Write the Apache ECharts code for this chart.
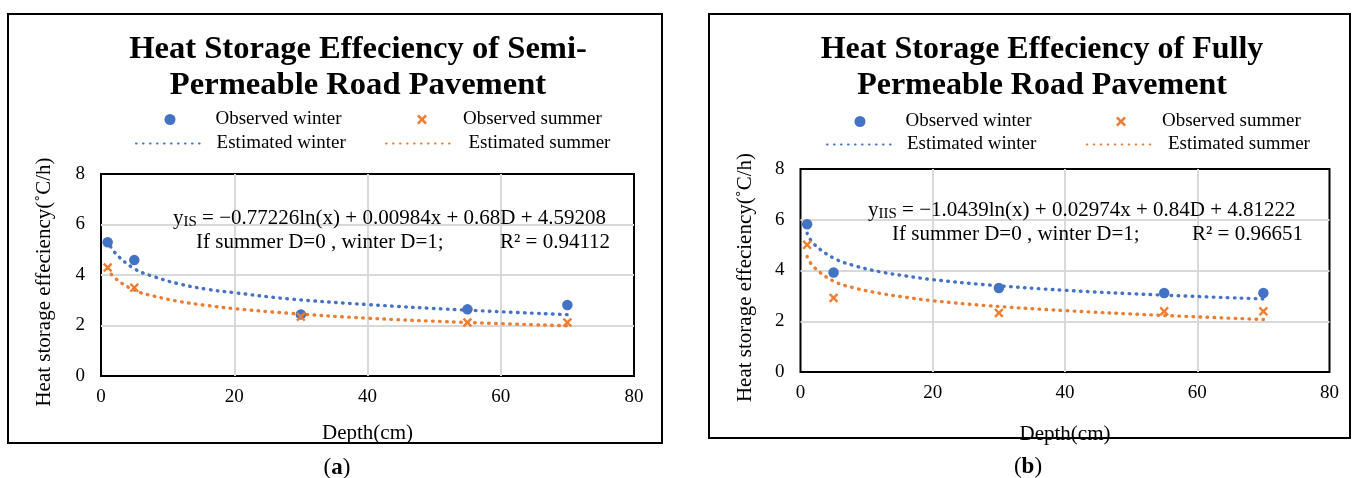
<!DOCTYPE html>
<html>
<head>
<meta charset="utf-8">
<script src="https://cdn.jsdelivr.net/npm/echarts@6/dist/echarts.min.js"></script>
<style>
html,body{margin:0;padding:0;background:#fff;}
#chart{width:1357px;height:478px;}
</style>
</head>
<body>
<div id="chart"></div>
<script>
// ---------- data ----------
const xTicks = [0, 20, 40, 60, 80];
const yTicks = [0, 2, 4, 6, 8];

const depthObs = [1, 5, 30, 55, 70];
const semiWinterObs = [5.30, 4.59, 2.44, 2.64, 2.81];
const semiSummerObs = [4.30, 3.50, 2.35, 2.12, 2.12];
const fullWinterObs = [5.82, 3.92, 3.31, 3.11, 3.11];
const fullSummerObs = [5.01, 2.92, 2.33, 2.39, 2.39];

const depthEst = [1, 2, 5, 8, 12, 16, 20, 28, 40, 54, 70];
const semiWinterEst = [5.38, 4.91, 4.25, 3.93, 3.63, 3.43, 3.30, 3.06, 2.83, 2.62, 2.43];
const semiSummerEst = [4.27, 3.90, 3.40, 3.16, 2.94, 2.79, 2.67, 2.49, 2.29, 2.13, 1.99];
const fullWinterEst = [5.47, 5.05, 4.49, 4.20, 3.95, 3.78, 3.64, 3.44, 3.22, 3.04, 2.88];
const fullSummerEst = [4.55, 4.14, 3.58, 3.32, 3.10, 2.94, 2.81, 2.62, 2.42, 2.24, 2.07];

const seriesNames = ['Observed winter', 'Observed summer', 'Estimated winter', 'Estimated summer'];
const titles = ['Heat Storage Effeciency of Semi-\nPermeable Road Pavement',
                'Heat Storage Effeciency of Fully\nPermeable Road Pavement'];
const xName = 'Depth(cm)';
const yName = 'Heat storage effeciency(\u02DAC/h)';
const eqSub = ['IS', 'IIS'];
const eqRest = [' = \u22120.77226ln(x) + 0.00984x + 0.68D + 4.59208',
                ' = \u22121.0439ln(x) + 0.02974x + 0.84D + 4.81222'];
const eqLine2 = 'If summer D=0 , winter D=1;';
const r2Text = ['R\u00B2 = 0.94112', 'R\u00B2 = 0.96651'];
const panelLabels = ['a', 'b'];

// ---------- style ----------
const BLUE = '#4472C4', ORANGE = '#ED7D31';
const FONT = '"Liberation Serif", "Times New Roman", serif';
const CROSS = 'path://M0,1.8L1.8,0L5,3.2L8.2,0L10,1.8L6.8,5L10,8.2L8.2,10L5,6.8L1.8,10L0,8.2L3.2,5Z';

const grids = [
  {left: 101, top: 174, width: 533, height: 202},
  {left: 800.5, top: 169, width: 529, height: 203}
];

function pairs(xs, ys) { return xs.map((x, i) => [x, ys[i]]); }

const splitStyle = {show: true, showMinLine: false, showMaxLine: false, lineStyle: {color: '#d9d9d9', width: 2}};
const xAxes = grids.map((g, i) => ({
  gridIndex: i, type: 'value', min: xTicks[0], max: xTicks[xTicks.length - 1], interval: 20,
  name: xName, nameLocation: 'middle', nameGap: i === 0 ? 47 : 52,
  nameTextStyle: {fontFamily: FONT, fontSize: 21, color: '#000'},
  axisLine: {show: false}, axisTick: {show: false},
  axisLabel: {fontFamily: FONT, fontSize: 19, color: '#000', margin: 12},
  splitLine: splitStyle
}));
const yAxes = grids.map((g, i) => ({
  gridIndex: i, type: 'value', min: yTicks[0], max: yTicks[yTicks.length - 1], interval: 2,
  name: yName, nameLocation: 'middle', nameGap: i === 0 ? 46 : 45,
  nameTextStyle: {fontFamily: FONT, fontSize: 21, color: '#000', padding: [0, 14, 0, 0]},
  axisLine: {show: false}, axisTick: {show: false},
  axisLabel: {fontFamily: FONT, fontSize: 19, color: '#000', margin: 16},
  splitLine: splitStyle
}));

const dotted = c => ({color: c, width: 3.4, type: [0.6, 6.4], cap: 'round'});
const obsSets = [[semiWinterObs, semiSummerObs], [fullWinterObs, fullSummerObs]];
const estSets = [[semiWinterEst, semiSummerEst], [fullWinterEst, fullSummerEst]];

const series = [];
[0, 1].forEach(i => {
  series.push({name: seriesNames[2], type: 'line', xAxisIndex: i, yAxisIndex: i, data: pairs(depthEst, estSets[i][0]),
    smooth: 0.4, showSymbol: false, symbol: 'none', lineStyle: dotted(BLUE), itemStyle: {color: BLUE}, z: 2});
  series.push({name: seriesNames[3], type: 'line', xAxisIndex: i, yAxisIndex: i, data: pairs(depthEst, estSets[i][1]),
    smooth: 0.4, showSymbol: false, symbol: 'none', lineStyle: dotted(ORANGE), itemStyle: {color: ORANGE}, z: 2});
  series.push({name: seriesNames[0], type: 'scatter', xAxisIndex: i, yAxisIndex: i, data: pairs(depthObs, obsSets[i][0]),
    symbol: 'circle', symbolSize: 10.5, itemStyle: {color: BLUE, opacity: 1}, z: 3});
  series.push({name: seriesNames[1], type: 'scatter', xAxisIndex: i, yAxisIndex: i, data: pairs(depthObs, obsSets[i][1]),
    symbol: CROSS, symbolSize: 9.5, itemStyle: {color: ORANGE, opacity: 1}, z: 4});
});

// legend items: [name, iconLeft, centerY, itemWidth, textPad]
const legendSpec = [
  [seriesNames[0], 164.5, 120, 11, 35], [seriesNames[1], 417, 120, 10, 31],
  [seriesNames[2], 135, 144, 66, 9.6], [seriesNames[3], 385, 144, 67, 10.5],
  [seriesNames[0], 854.5, 122, 11, 35], [seriesNames[1], 1116, 122, 10, 31],
  [seriesNames[2], 826, 145, 65, 10], [seriesNames[3], 1085.7, 145, 66, 10.3]
];
const legends = legendSpec.map(s => {
  const isLine = s[0].indexOf('Estimated') === 0;
  const lg = {
    data: [s[0]], left: s[1], top: s[2] - 10, padding: 0, itemGap: 0,
    itemWidth: s[3], itemHeight: isLine ? 20 : s[3], selectedMode: false,
    textStyle: {fontFamily: FONT, fontSize: 19, color: '#000', padding: [0, 0, 0, s[4]]}
  };
  if (s[0] === seriesNames[0]) lg.icon = 'circle';
  if (s[0] === seriesNames[1]) lg.icon = CROSS;
  if (isLine) lg.itemStyle = {opacity: 0};
  return lg;
});

const boxes = [[8, 14, 654, 429], [709, 14, 641, 424]];
const titleCX = [358, 1042];
const titleSize = [32.6, 32];
const eqPos = [[173, 218, 196, 242, 500], [868, 210, 892, 234, 1192]];
const labelPos = [[337, 468], [1028, 467]];

const graphic = [];
boxes.forEach(b => graphic.push({type: 'rect', shape: {x: b[0], y: b[1], width: b[2], height: b[3]},
  style: {fill: 'none', stroke: '#000', lineWidth: 2}, silent: true, z: -1}));
[0, 1].forEach(i => {
  graphic.push({type: 'text', x: titleCX[i], y: 68, style: {text: titles[i], fontFamily: FONT, fontSize: titleSize[i],
    fontWeight: 'bold', fill: '#000', align: 'center', verticalAlign: 'middle', lineHeight: 36}, z: 10});
  const e = eqPos[i];
  graphic.push({type: 'text', x: e[0], y: e[1], style: {
    text: '{n|y}{s|' + eqSub[i] + '}{n|' + eqRest[i] + '}', align: 'left', verticalAlign: 'middle',
    rich: {n: {fontFamily: FONT, fontSize: 21, fill: '#000', lineHeight: 24},
           s: {fontFamily: FONT, fontSize: 15, fill: '#000', lineHeight: 15, verticalAlign: 'bottom'}}}, z: 10});
  graphic.push({type: 'text', x: e[2], y: e[3], style: {text: eqLine2, fontFamily: FONT, fontSize: 21, fill: '#000',
    align: 'left', verticalAlign: 'middle'}, z: 10});
  graphic.push({type: 'text', x: e[4], y: e[3], style: {text: r2Text[i], fontFamily: FONT, fontSize: 21, fill: '#000',
    align: 'left', verticalAlign: 'middle'}, z: 10});
  graphic.push({type: 'text', x: labelPos[i][0], y: labelPos[i][1], style: {
    text: '{p|(}{b|' + panelLabels[i] + '}{p|)}', align: 'center', verticalAlign: 'middle',
    rich: {p: {fontFamily: FONT, fontSize: 23, fill: '#000'}, b: {fontFamily: FONT, fontSize: 23, fontWeight: 'bold', fill: '#000'}}}, z: 10});
});

const chart = echarts.init(document.getElementById('chart'), null, {renderer: 'canvas'});
chart.setOption({
  animation: false,
  backgroundColor: '#fff',
  grid: grids.map(g => Object.assign({show: true, borderColor: '#000', borderWidth: 2, backgroundColor: 'transparent', containLabel: false}, g)),
  xAxis: xAxes,
  yAxis: yAxes,
  legend: legends,
  series: series,
  graphic: graphic
});
</script>
</body>
</html>
